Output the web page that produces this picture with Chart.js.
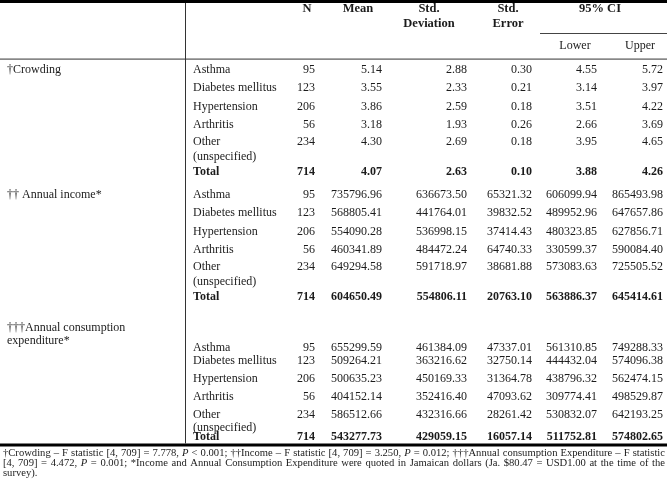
<!DOCTYPE html>
<html><head><meta charset="utf-8">
<script src="https://cdn.jsdelivr.net/npm/chart.js@4.4.0/dist/chart.umd.min.js"></script>
<style>html,body{margin:0;padding:0;background:#fff}canvas{display:block}</style>
</head><body>
<canvas id="c" width="667" height="484"></canvas>
<script>
// ---------- data ----------
const columnHeaders = ['N', 'Mean', 'Std.\nDeviation', 'Std.\nError', 'Lower', 'Upper'];
const ciHeader = '95% CI';
const groups = ['†Crowding', '†† Annual income*', '†††Annual consumption\nexpenditure*'];
const categories = ['Asthma', 'Diabetes mellitus', 'Hypertension', 'Arthritis', 'Other\n(unspecified)', 'Total'];
const nValues = [95, 123, 206, 56, 234, 714];

const crowdingMean  = [5.14, 3.55, 3.86, 3.18, 4.30, 4.07];
const crowdingSD    = [2.88, 2.33, 2.59, 1.93, 2.69, 2.63];
const crowdingSE    = [0.30, 0.21, 0.18, 0.26, 0.18, 0.10];
const crowdingLower = [4.55, 3.14, 3.51, 2.66, 3.95, 3.88];
const crowdingUpper = [5.72, 3.97, 4.22, 3.69, 4.65, 4.26];

const incomeMean  = [735796.96, 568805.41, 554090.28, 460341.89, 649294.58, 604650.49];
const incomeSD    = [636673.50, 441764.01, 536998.15, 484472.24, 591718.97, 554806.11];
const incomeSE    = [65321.32, 39832.52, 37414.43, 64740.33, 38681.88, 20763.10];
const incomeLower = [606099.94, 489952.96, 480323.85, 330599.37, 573083.63, 563886.37];
const incomeUpper = [865493.98, 647657.86, 627856.71, 590084.40, 725505.52, 645414.61];

const expenditureMean  = [655299.59, 509264.21, 500635.23, 404152.14, 586512.66, 543277.73];
const expenditureSD    = [461384.09, 363216.62, 450169.33, 352416.40, 432316.66, 429059.15];
const expenditureSE    = [47337.01, 32750.14, 31364.78, 47093.62, 28261.42, 16057.14];
const expenditureLower = [561310.85, 444432.04, 438796.32, 309774.41, 530832.07, 511752.81];
const expenditureUpper = [749288.33, 574096.38, 562474.15, 498529.87, 642193.25, 574802.65];

const footnoteLines = [
  '†Crowding – F statistic [4, 709] = 7.778, _P_ < 0.001; ††Income – F statistic [4, 709] = 3.250, _P_ = 0.012; †††Annual consumption Expenditure – F statistic',
  '[4, 709] = 4.472, _P_ = 0.001; *Income and Annual Consumption Expenditure were quoted in Jamaican dollars (Ja. $80.47 = USD1.00 at the time of the',
  'survey).'
];

// ---------- layout (table units on the chart's scales) ----------
const groupSeries = [
  [crowdingMean, crowdingSD, crowdingSE, crowdingLower, crowdingUpper],
  [incomeMean, incomeSD, incomeSE, incomeLower, incomeUpper],
  [expenditureMean, expenditureSD, expenditureSE, expenditureLower, expenditureUpper]
];
const colRight = [315, 382, 467, 532, 597, 663];
const headerCenter = [307, 358, 429, 508, 575, 640];
const groupLabelY = [[70], [195], [328, 341]];
const rowY = [
  [70, 88, 107, 125, 142, 172],
  [195, 213, 232, 250, 267, 297],
  [348, 361, 379, 397, 415, 437]
];
const unspecY = [157, 282, 428];

const FONT = '"Liberation Serif", "Times New Roman", serif';
const TXT = '#1b1b1b';

const tablePlugin = {
  id: 'tableDraw',
  afterDraw(chart) {
    const ctx = chart.ctx;
    const X = v => chart.scales.x.getPixelForValue(v);
    const Y = v => chart.scales.y.getPixelForValue(v);
    ctx.save();
    // rules
    ctx.fillStyle = '#000';
    ctx.fillRect(X(0), Y(0), X(667) - X(0), Y(3) - Y(0));
    ctx.fillRect(X(0), Y(443.5), X(667) - X(0), Y(446.5) - Y(443.5));
    ctx.fillStyle = '#555';
    ctx.fillRect(X(0), Y(58.5), X(667) - X(0), 1.2);
    ctx.fillStyle = '#444';
    ctx.fillRect(X(540), Y(33), X(667) - X(540), 1);
    ctx.fillStyle = '#333';
    ctx.fillRect(X(185), Y(3), 1, Y(443.5) - Y(3));

    ctx.fillStyle = TXT;
    ctx.textBaseline = 'middle';
    // header
    ctx.font = 'bold 12.5px ' + FONT;
    ctx.textAlign = 'center';
    for (let i = 0; i < 4; i++) {
      const parts = columnHeaders[i].split('\n');
      parts.forEach((p, k) => ctx.fillText(p, X(headerCenter[i]), Y(9 + k * 15)));
    }
    ctx.fillText(ciHeader, X(600), Y(9));
    ctx.font = '12px ' + FONT;
    ctx.fillText(columnHeaders[4], X(headerCenter[4]), Y(46));
    ctx.fillText(columnHeaders[5], X(headerCenter[5]), Y(46));

    // body
    for (let g = 0; g < groups.length; g++) {
      ctx.font = '12px ' + FONT;
      ctx.textAlign = 'left';
      groups[g].split('\n').forEach((p, k) => ctx.fillText(p, X(7), Y(groupLabelY[g][k])));
      for (let r = 0; r < categories.length; r++) {
        const bold = r === categories.length - 1;
        ctx.font = (bold ? 'bold ' : '') + '12px ' + FONT;
        ctx.textAlign = 'left';
        const cparts = categories[r].split('\n');
        ctx.fillText(cparts[0], X(193), Y(rowY[g][r]));
        if (cparts[1]) ctx.fillText(cparts[1], X(193), Y(unspecY[g]));
        ctx.textAlign = 'right';
        ctx.fillText(String(nValues[r]), X(colRight[0]), Y(rowY[g][r]));
        groupSeries[g].forEach((series, c) => {
          ctx.fillText(series[r].toFixed(2), X(colRight[c + 1]), Y(rowY[g][r]));
        });
      }
    }

    // footnote (justified)
    const fsize = 10.6;
    const fy = [453.5, 463.5, 473];
    ctx.textAlign = 'left';
    footnoteLines.forEach((line, li) => {
      const words = line.split(' ').map(w => {
        const segs = [];
        w.split('_').forEach((s, k) => { if (s) segs.push({ s, it: k % 2 === 1 }); });
        return segs;
      });
      const wWidth = segs => segs.reduce((a, sg) => {
        ctx.font = (sg.it ? 'italic ' : '') + fsize + 'px ' + FONT;
        return a + ctx.measureText(sg.s).width;
      }, 0);
      const widths = words.map(wWidth);
      const total = widths.reduce((a, b) => a + b, 0);
      ctx.font = fsize + 'px ' + FONT;
      const space = ctx.measureText(' ').width;
      const justify = li < footnoteLines.length - 1;
      const gap = justify ? Math.max(1.5, (X(665) - X(3) - total) / (words.length - 1)) : space;
      let x = X(3);
      words.forEach((segs) => {
        segs.forEach(sg => {
          ctx.font = (sg.it ? 'italic ' : '') + fsize + 'px ' + FONT;
          ctx.fillText(sg.s, x, Y(fy[li]));
          x += ctx.measureText(sg.s).width;
        });
        x += gap;
      });
    });
    ctx.restore();
  }
};

new Chart(document.getElementById('c'), {
  type: 'scatter',
  data: { datasets: [{ data: [], pointRadius: 0 }] },
  options: {
    responsive: false,
    animation: false,
    layout: { padding: 0 },
    plugins: { legend: { display: false }, tooltip: { enabled: false } },
    scales: {
      x: { type: 'linear', min: 0, max: 667, display: false },
      y: { type: 'linear', min: 0, max: 484, reverse: true, display: false }
    }
  },
  plugins: [tablePlugin]
});
</script>
</body></html>
